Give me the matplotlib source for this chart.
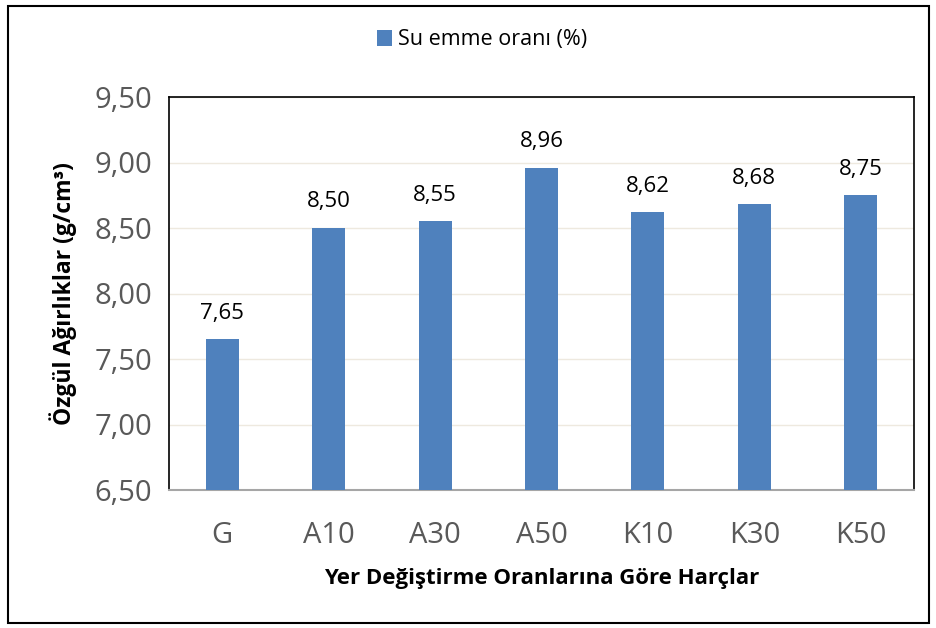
import numpy as np
import matplotlib.pyplot as plt
from matplotlib.patches import Rectangle

plt.rcParams['font.family'] = ['Open Sans', 'DejaVu Sans']

categories = ['G', 'A10', 'A30', 'A50', 'K10', 'K30', 'K50']
values = [7.65, 8.50, 8.55, 8.96, 8.62, 8.68, 8.75]
yticks = [6.5, 7.0, 7.5, 8.0, 8.5, 9.0, 9.5]

fig = plt.figure(figsize=(9.36, 6.28), dpi=100)
ax = fig.add_axes([169/936, 1-490/628, 745/936, 393/628])

x = np.arange(len(categories))
bars = ax.bar(x, values, width=0.31, color='#4F81BD', zorder=3, label='Su emme oranı (%)')
for xi, v in zip(x, values):
    ax.text(xi, v + 0.12, f'{v:.2f}'.replace('.', ','), ha='center', va='bottom',
            fontsize=16, color='black')

ax.set_xlim(-0.5, len(categories) - 0.5)
ax.set_ylim(6.5, 9.5)
ax.set_yticks(yticks)
ax.set_yticklabels([f'{t:.2f}'.replace('.', ',') for t in yticks])
ax.set_xticks(x)
ax.set_xticklabels(categories)
ax.tick_params(axis='both', length=0, labelsize=21, colors='#595959', pad=12)
ax.tick_params(axis='x', pad=22)
ax.grid(axis='y', color='#EEE9DF', linewidth=1, zorder=0)

for s in ['left', 'top', 'right']:
    ax.spines[s].set_color('black')
    ax.spines[s].set_linewidth(1.2)
ax.spines['bottom'].set_color('#A6A6A6')
ax.spines['bottom'].set_linewidth(1.5)

ax.set_xlabel('Yer Değiştirme Oranlarına Göre Harçlar', fontsize=16, fontweight='bold', labelpad=13)
ax.set_ylabel('Özgül Ağırlıklar (g/cm³)', fontsize=16.5, fontweight='bold', labelpad=13)

ax.legend(loc='center', bbox_to_anchor=(482/936, 1-40/628), bbox_transform=fig.transFigure,
          frameon=False, fontsize=15.5, handlelength=0.7, handleheight=0.7, handletextpad=0.3)

fig.patches.append(Rectangle((8/936, 5/628), 921/936, 617/628, transform=fig.transFigure,
                             fill=False, edgecolor='black', linewidth=1.5))

fig.savefig('out.png', dpi=100)
